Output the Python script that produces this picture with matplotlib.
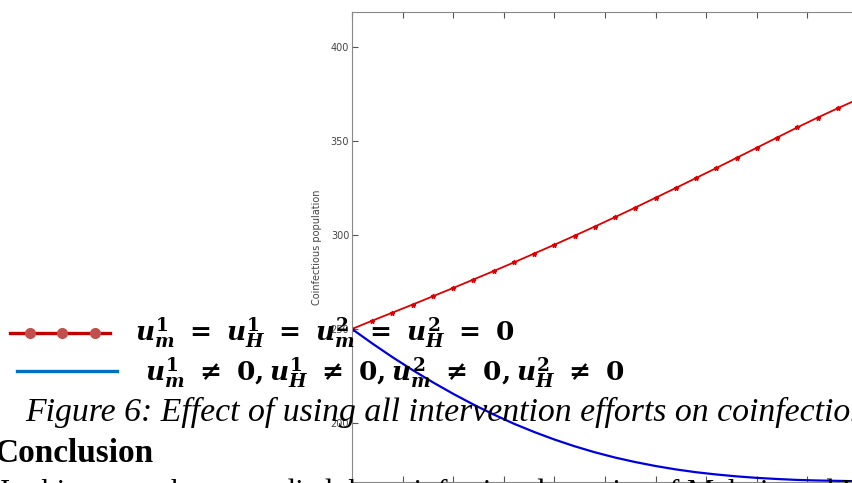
import matplotlib.pyplot as plt

plt.rcParams['mathtext.fontset'] = 'custom'
plt.rcParams['mathtext.it'] = 'DejaVu Serif:italic:bold'
plt.rcParams['mathtext.rm'] = 'DejaVu Serif:bold'
plt.rcParams['mathtext.bf'] = 'DejaVu Serif:bold'

# Temps (sans unité lue) et populations co-infectées
t = [0, 4, 8, 12, 16, 20, 24, 28, 32, 36, 40, 44, 48, 52, 56, 60, 64, 68, 72, 76, 80, 84, 88, 92, 96, 100]
sans_controle = [250, 254.4, 258.7, 263.0, 267.4, 271.8, 276.3, 280.8, 285.4, 290.1, 294.8, 299.6, 304.5,
                 309.5, 314.6, 319.8, 325.0, 330.3, 335.6, 341.0, 346.4, 351.8, 357.2, 362.4, 367.4, 372.2]
avec_controle = [250, 242.3, 235.0, 228.1, 221.6, 215.5, 209.8, 204.5, 199.6, 195.2, 191.2, 187.6, 184.4,
                 181.6, 179.2, 177.1, 175.3, 173.8, 172.6, 171.6, 170.8, 170.2, 169.7, 169.4, 169.2, 169.0]
yticks = [200, 250, 300, 350, 400]
xticks = [0, 10, 20, 30, 40, 50, 60, 70, 80, 90, 100]

fig = plt.figure(figsize=(8.53, 4.83), dpi=100)
W, H = 853, 483
ax = fig.add_axes([352 / W, 1 / H, 506 / W, 470 / H])
ax.plot(t, sans_controle, color='#dd0000', lw=1.3, marker='*', ms=3.5)
ax.plot(t, avec_controle, color='#0000dd', lw=1.6)
ax.set_xlim(0, 100)
ax.set_ylim(168.6, 418.6)
ax.set_xticks(xticks)
ax.set_yticks(yticks)
ax.tick_params(direction='in', length=4, top=True, right=True, labelbottom=False,
               labelsize=7, labelcolor='#444444', color='#555555', pad=2)
for s in ax.spines.values():
    s.set_color('#888888')
ax.set_ylabel('Coinfectious population', fontsize=7, color='#444444', labelpad=6)

# Texte du document superposé
fig.lines.append(plt.Line2D([10 / W, 110 / W], [1 - 333 / H] * 2, transform=fig.transFigure,
                            color='#c00000', lw=2.4))
fig.lines.append(plt.Line2D([30 / W, 62 / W, 95 / W], [1 - 333 / H] * 3, transform=fig.transFigure,
                            ls='none', marker='o', ms=7, color='#c0504d'))
fig.lines.append(plt.Line2D([17 / W, 117 / W], [1 - 371 / H] * 2, transform=fig.transFigure,
                            color='#0070c0', lw=2.4))
fig.text(135 / W, 1 - 333 / H, r'$u_m^1\ =\ u_H^1\ =\ u_m^2\ =\ u_H^2\ =\ 0$',
         fontsize=19, va='center', ha='left', zorder=5)
fig.text(145 / W, 1 - 373 / H, r'$u_m^1\ \neq\ 0, u_H^1\ \neq\ 0, u_m^2\ \neq\ 0, u_H^2\ \neq\ 0$',
         fontsize=19, va='center', ha='left', zorder=5)
fig.text(25 / W, 1 - 412 / H, 'Figure 6: Effect of using all intervention efforts on coinfection',
         family='Liberation Serif', style='italic', fontsize=24.3, va='center', ha='left', zorder=5)
fig.text(-6 / W, 1 - 453 / H, 'Conclusion', family='Liberation Serif', weight='bold',
         fontsize=24, va='center', ha='left', zorder=5)
fig.text(0 / W, 1 - 493 / H, 'In this research, we studied the coinfection dynamics of Malaria and HIV/AIDS disease',
         family='Liberation Serif', fontsize=22, va='center', ha='left', zorder=5)

fig.savefig('out.png', dpi=100)
